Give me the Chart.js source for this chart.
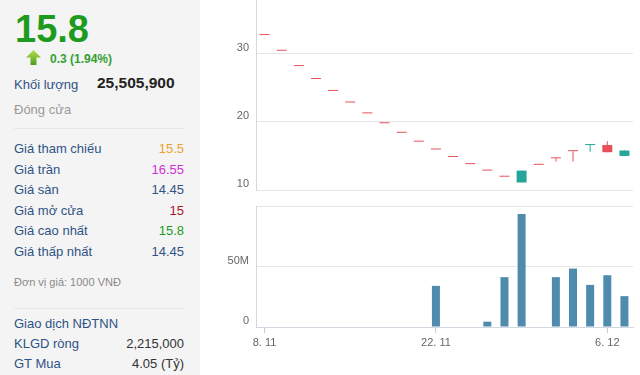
<!DOCTYPE html>
<html lang="vi">
<head>
<meta charset="utf-8">
<title>15.8</title>
<script src="https://cdn.jsdelivr.net/npm/chart.js@4.4.1/dist/chart.umd.min.js"></script>
<style>
    html, body { margin: 0; padding: 0; background: #ffffff; }
    body { width: 640px; height: 375px; position: relative; overflow: hidden; font-family: 'Liberation Sans', Arial, sans-serif; }
    #panel { position: absolute; left: 0; top: 0; width: 200px; height: 375px; background: #f4f4f4; }
    #panel div { position: absolute; white-space: nowrap; }
    .lbl { left: 14px; font-size: 13px; line-height: 20px; color: #2f5385; }
    .val { right: 16px; font-size: 13px; line-height: 20px; text-align: right; }
    .sep { left: 14px; width: 170px; height: 1px; background: #e6e6e6; }
    #priceChart { position: absolute; left: 200px; top: 0; }
    #volumeChart { position: absolute; left: 200px; top: 200px; }
</style>
</head>
<body>
<div id="panel">
    <div style="left:15px; top:9px; font-size:38px; line-height:40px; font-weight:bold; color:#1e9b1e;">15.8</div>
    <div style="left:26px; top:50px;">
        <svg width="15" height="15" viewBox="0 0 15 15">
            <defs>
                <linearGradient id="arrowGrad" x1="0" y1="0" x2="0" y2="1">
                    <stop offset="0" stop-color="#b8e04c"/>
                    <stop offset="1" stop-color="#4e9e1e"/>
                </linearGradient>
            </defs>
            <polygon points="7.5,0 15,7.5 10.5,7.5 10.5,15 4.5,15 4.5,7.5 0,7.5" fill="url(#arrowGrad)"/>
        </svg>
    </div>
    <div style="left:50px; top:51px; font-size:12px; line-height:16px; font-weight:bold; color:#33a033;">0.3 (1.94%)</div>
    <div class="lbl" style="top:75px;">Khối lượng</div>
    <div style="left:97px; top:73px; font-size:15.5px; line-height:20px; font-weight:bold; color:#222;">25,505,900</div>
    <div class="lbl" style="top:100px; color:#9a9a9a;">Đóng cửa</div>
    <div class="sep" style="top:128px;"></div>

    <div class="lbl" style="top:139px;">Giá tham chiếu</div>
    <div class="val" style="top:139px; color:#f0a030;">15.5</div>
    <div class="lbl" style="top:159.5px;">Giá trần</div>
    <div class="val" style="top:159.5px; color:#d030d0;">16.55</div>
    <div class="lbl" style="top:180px;">Giá sàn</div>
    <div class="val" style="top:180px; color:#2f5385;">14.45</div>
    <div class="lbl" style="top:200.5px;">Giá mở cửa</div>
    <div class="val" style="top:200.5px; color:#b01428;">15</div>
    <div class="lbl" style="top:221px;">Giá cao nhất</div>
    <div class="val" style="top:221px; color:#1e9b1e;">15.8</div>
    <div class="lbl" style="top:241.5px;">Giá thấp nhất</div>
    <div class="val" style="top:241.5px; color:#2f5385;">14.45</div>

    <div style="left:14px; top:274px; font-size:11px; line-height:16px; color:#8a8a8a;">Đơn vị giá: 1000 VNĐ</div>
    <div class="sep" style="top:308px;"></div>

    <div class="lbl" style="top:313.5px;">Giao dịch NĐTNN</div>
    <div class="lbl" style="top:333.5px;">KLGD ròng</div>
    <div class="val" style="top:333.5px; color:#333;">2,215,000</div>
    <div class="lbl" style="top:354px;">GT Mua</div>
    <div class="val" style="top:354px; color:#333;">4.05 (Tỷ)</div>
</div>

<canvas id="priceChart" width="440" height="192"></canvas>
<canvas id="volumeChart" width="440" height="175"></canvas>

<script>
// Trading days (8.11 -> 7.12)
const dates = ['8. 11', '9. 11', '10. 11', '11. 11', '12. 11',
    '15. 11', '16. 11', '17. 11', '18. 11', '19. 11',
    '22. 11', '23. 11', '24. 11', '25. 11', '26. 11',
    '29. 11', '30. 11', '1. 12', '2. 12', '3. 12',
    '6. 12', '7. 12'];

// OHLC prices (thousand VND)
const openPrices = [32.75, 30.45, 28.2, 26.3, 24.55, 22.85, 21.25, 19.8, 18.4, 17.1,
    15.95, 14.85, 13.8, 12.85, 11.95, 11.1, 13.7, 14.65, 15.7, 16.6, 16.6, 15.0];
const highPrices = [32.75, 30.45, 28.2, 26.3, 24.55, 22.85, 21.25, 19.8, 18.4, 17.1,
    15.95, 14.85, 13.8, 12.85, 11.95, 12.85, 13.7, 14.65, 15.7, 16.65, 17.15, 15.8];
const lowPrices = [32.75, 30.45, 28.2, 26.3, 24.55, 22.85, 21.25, 19.8, 18.4, 17.1,
    15.95, 14.85, 13.8, 12.85, 11.95, 11.1, 13.7, 14.2, 14.2, 15.6, 15.55, 15.0];
const closePrices = [32.75, 30.45, 28.2, 26.3, 24.55, 22.85, 21.25, 19.8, 18.4, 17.1,
    15.95, 14.85, 13.8, 12.85, 11.95, 12.85, 13.7, 14.65, 15.7, 16.65, 15.55, 15.8];

// Volume (millions of shares)
const volumes = [0, 0, 0, 0, 0, 0, 0, 0, 0, 0,
    34.0, 0, 0, 4.4, 41.2, 93.3, 0, 41.2, 48.3, 34.8, 42.8, 25.5];

// Axis ticks
const priceTicks = [10, 20, 30];
const volumeTicks = [0, 50, 100];
const shownDates = ['8. 11', '22. 11', '6. 12'];

const COLORS = {
    up: '#26a69a',
    down: '#e5505a',
    volume: '#4f8bad',
    grid: '#e6e6e6',
    axis: '#d3d8e0',
    tick: '#666666'
};

Chart.defaults.animation = false;
Chart.defaults.font.family = "'Liberation Sans', Arial, sans-serif";
Chart.defaults.font.size = 11;
Chart.defaults.color = COLORS.tick;

// Same left/right geometry for both charts
function fixYAxis(scale) {
    scale.width = 56;
    scale.paddingTop = 0;
    scale.paddingBottom = 0;
}

function candleColors() {
    return closePrices.map((c, i) => c > openPrices[i] ? COLORS.up : COLORS.down);
}

function initPriceChart() {
    const ctx = document.getElementById('priceChart').getContext('2d');
    const colors = candleColors();
    return new Chart(ctx, {
        type: 'bar',
        data: {
            labels: dates,
            datasets: [{
                // bodies
                data: openPrices.map((o, i) => [o, closePrices[i]]),
                backgroundColor: colors,
                barThickness: 10,
                minBarLength: 1,
                inflateAmount: 0,
                grouped: false
            }, {
                // wicks
                data: lowPrices.map((l, i) => [l, highPrices[i]]),
                backgroundColor: colors,
                barThickness: 1,
                inflateAmount: 0,
                grouped: false
            }]
        },
        options: {
            responsive: false,
            layout: { padding: { top: 0, right: 7, bottom: 2, left: 0 } },
            plugins: { legend: { display: false }, tooltip: { enabled: false } },
            scales: {
                x: { display: false, offset: true },
                y: {
                    min: 10,
                    max: 37.9,
                    afterBuildTicks: (scale) => {
                        scale.ticks = priceTicks.map(v => ({ value: v }));
                    },
                    afterFit: fixYAxis,
                    grid: { color: COLORS.grid, drawTicks: false },
                    border: { color: COLORS.axis },
                    ticks: { padding: 7, labelOffset: -6 }
                }
            }
        }
    });
}

function initVolumeChart() {
    const ctx = document.getElementById('volumeChart').getContext('2d');
    return new Chart(ctx, {
        type: 'bar',
        data: {
            labels: dates,
            datasets: [{
                // no trades -> no bar
                data: volumes.map(v => v > 0 ? v : null),
                backgroundColor: COLORS.volume,
                barThickness: 8,
                inflateAmount: 0
            }]
        },
        options: {
            responsive: false,
            layout: { padding: { top: 6, right: 7, bottom: 0, left: 0 } },
            plugins: { legend: { display: false }, tooltip: { enabled: false } },
            scales: {
                x: {
                    offset: true,
                    afterFit: (scale) => {
                        scale.height = 48;
                        scale.paddingLeft = 0;
                        scale.paddingRight = 0;
                    },
                    grid: { drawOnChartArea: false, tickLength: 6, color: '#cccccc', offset: false },
                    border: { color: COLORS.axis },
                    ticks: {
                        autoSkip: false,
                        maxRotation: 0,
                        padding: 3,
                        callback: function(value) {
                            const label = this.getLabelForValue(value);
                            return shownDates.includes(label) ? label : null;
                        }
                    }
                },
                y: {
                    min: 0,
                    max: 100,
                    afterBuildTicks: (scale) => {
                        scale.ticks = volumeTicks.map(v => ({ value: v }));
                    },
                    afterFit: fixYAxis,
                    grid: { color: COLORS.grid, drawTicks: false },
                    border: { color: COLORS.axis },
                    ticks: {
                        padding: 7,
                        labelOffset: -6,
                        callback: (v) => v === 0 ? '0' : (v < 100 ? v + 'M' : '')
                    }
                }
            }
        }
    });
}

document.addEventListener('DOMContentLoaded', () => {
    try {
        initPriceChart();
        initVolumeChart();
    } catch (error) {
        console.error('Chart error:', error);
    }
});
</script>
</body>
</html>
